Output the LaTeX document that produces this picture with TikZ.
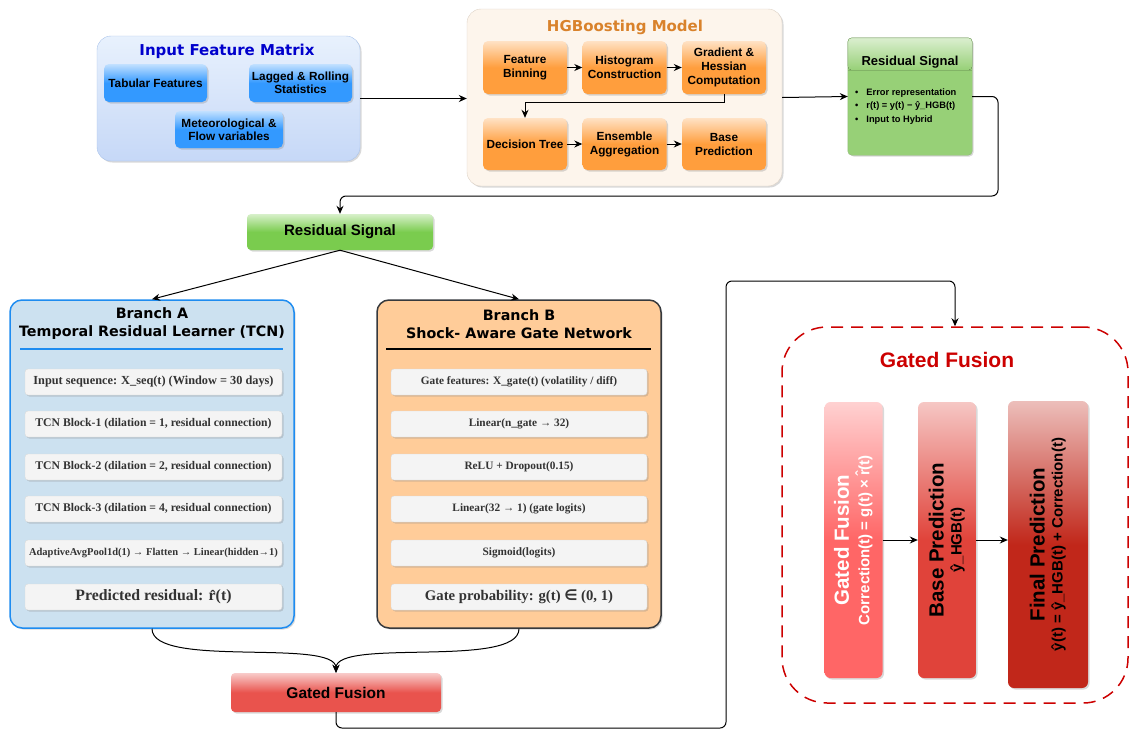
\documentclass[tikz,border=0pt]{standalone}
\usepackage{fontspec}
\setmainfont{Liberation Sans}
\newfontfamily\headfont{DejaVu Sans}
\newfontfamily\layerfont{Liberation Serif}
\usetikzlibrary{positioning, arrows.meta, shadows}
\definecolor{InputBlue}{HTML}{0000CC}
\definecolor{InputTop}{HTML}{E8F1FD}
\definecolor{InputBottom}{HTML}{C6D8F7}
\definecolor{InputEdge}{HTML}{A9C3EA}
\definecolor{FeatBlue}{HTML}{3399FF}
\definecolor{HGBOrange}{HTML}{D9822B}
\definecolor{HGBPanel}{HTML}{FDF5EC}
\definecolor{HGBEdge}{HTML}{DDD2C6}
\definecolor{StepOrange}{HTML}{FF9E3D}
\definecolor{ResGreen}{HTML}{97D077}
\definecolor{ResEdge}{HTML}{82B366}
\definecolor{SignalGreen}{HTML}{7ACC4E}
\definecolor{BranchAFill}{HTML}{CCE1F0}
\definecolor{BranchAEdge}{HTML}{1E8CF0}
\definecolor{BranchBFill}{HTML}{FFCC99}
\definecolor{BranchBEdge}{HTML}{36393D}
\definecolor{LayerFill}{HTML}{F4F4F4}
\definecolor{LayerEdge}{HTML}{DADADA}
\definecolor{LayerText}{HTML}{333333}
\definecolor{FusionRed}{HTML}{CC0000}
\definecolor{FuseLight}{HTML}{FF6666}
\definecolor{FuseMid}{HTML}{E0433A}
\definecolor{FuseDark}{HTML}{C1271A}
\definecolor{SmallFuse}{HTML}{E9534D}

\newcommand{\vlabel}[2]{\rotatebox{90}{\begin{tabular}{@{}c@{}}{\fontsize{20.5}{22}\selectfont #1}\\[3pt]{\fontsize{15}{16}\selectfont #2}\end{tabular}}}

\tikzset{
  softshadow/.style={drop shadow={opacity=0.3, shadow xshift=1.5pt, shadow yshift=-1.5pt}},
  glossy/.style={rounded corners=5pt, softshadow, top color=#1!30!white, bottom color=#1, middle color=#1, align=center, inner sep=1pt},
  featbox/.style={glossy=FeatBlue, minimum width=103pt, minimum height=38pt, font=\bfseries\fontsize{11.8}{13}\selectfont},
  stepbox/.style={glossy=StepOrange, minimum width=84pt, minimum height=53pt, font=\bfseries\fontsize{11.8}{14}\selectfont},
  layer/.style={draw=LayerEdge, fill=LayerFill, rounded corners=3pt, softshadow, minimum height=26pt, text=LayerText, inner sep=1pt},
  branchhead/.style={font=\headfont\bfseries\fontsize{14.3}{18}\selectfont, align=center},
  fusecol/.style={glossy=#1, rounded corners=6pt, minimum width=58pt, minimum height=276pt, font=\bfseries},
  arr/.style={-{Stealth[length=8pt, width=7pt]}, line width=1pt, black},
}

\begin{document}
\begin{tikzpicture}[x=1pt, y=-1pt]
\useasboundingbox (0,0) rectangle (1129,731);

% Input feature matrix
\node[rounded corners=14pt, softshadow, draw=InputEdge, top color=InputTop, bottom color=InputBottom, minimum width=263pt, minimum height=125pt] (inpanel) at (228.5,98.5) {};
\node[font=\headfont\bfseries\fontsize{15}{17}\selectfont, text=InputBlue] (intitle) at (227,51) {Input Feature Matrix};
\node[featbox] (tab) at (155.5,83) {Tabular Features};
\node[featbox] (lag) at (300.5,83) {Lagged \& Rolling\\Statistics};
\node[featbox, minimum width=108pt, minimum height=37pt] (met) at (229,129.5) {Meteorological \&\\Flow variables};

% HGBoosting model
\node[rounded corners=14pt, softshadow, draw=HGBEdge, fill=HGBPanel, minimum width=315pt, minimum height=177pt] (hgbpanel) at (624.5,97.5) {};
\node[font=\headfont\bfseries\fontsize{15}{17}\selectfont, text=HGBOrange] (hgbtitle) at (625,27) {HGBoosting Model};
\node[stepbox] (fb) at (525,67.5) {Feature\\Binning};
\node[stepbox] (hc) at (624.5,67.5) {Histogram\\Construction};
\node[stepbox] (gh) at (724,67.5) {Gradient \&\\Hessian\\Computation};
\node[stepbox, minimum height=52pt] (dt) at (525,144) {Decision Tree};
\node[stepbox, minimum height=52pt] (ea) at (624.5,144) {Ensemble\\Aggregation};
\node[stepbox, minimum height=52pt] (bp) at (724,144) {Base\\Prediction};
\draw[arr] (fb) -- (hc);
\draw[arr] (hc) -- (gh);
\draw[arr] (dt) -- (ea);
\draw[arr] (ea) -- (bp);
\draw[arr] (gh.south) -- ++(0,8) -| (dt.north);
\draw[arr] (inpanel.east) -- (inpanel.east -| hgbpanel.west);

% Residual signal card
\node[fill=ResGreen, minimum width=124pt, minimum height=117pt, rounded corners=4pt, softshadow] (resbox) at (910,96.5) {};
\fill[top color=ResGreen!35!white, bottom color=ResGreen, rounded corners=4pt] (resbox.north west) rectangle (resbox.east |- 0,70);
\draw[ResEdge] (resbox.west |- 0,70) -- (resbox.east |- 0,70);
\draw[ResEdge, rounded corners=4pt] (resbox.north west) rectangle (resbox.south east);
\node[font=\bfseries\fontsize{13}{15}\selectfont] (reshead) at (910,62) {Residual Signal};
\node[anchor=north west, align=left, inner sep=0pt, font=\bfseries\fontsize{9.3}{13.5}\selectfont] (resbul) at (855,88.5)
  {•\hspace{8pt}Error representation\\ •\hspace{8pt}r(t) = y(t) − ŷ\_HGB(t)\\ •\hspace{8pt}Input to Hybrid};
\draw[arr] (hgbpanel.east) -- (resbox.west);

% Residual signal into the branches
\node[glossy=SignalGreen, rounded corners=4pt, minimum width=186pt, minimum height=36pt, font=\bfseries\fontsize{15}{17}\selectfont] (res2) at (340,232) {Residual Signal};
\coordinate (loopR) at (998,196);
\draw[arr, rounded corners=6pt] (resbox.east) -| (loopR) -| (res2.north);

% Branch A
\node[rounded corners=12pt, softshadow, draw=BranchAEdge, line width=1.5pt, fill=BranchAFill, minimum width=284pt, minimum height=328pt] (brA) at (152,464) {};
\node[branchhead] (brAhead) at (152,324) {Branch A\\Temporal Residual Learner (TCN)};
\draw[BranchAEdge, line width=1.2pt] (20,349) -- (283,349);
\foreach \y/\fs/\txt [count=\i] in {
    382/12.3/{Input sequence: X\_seq(t) (Window = 30 days)},
    424/11.7/{TCN Block-1 (dilation = 1, residual connection)},
    467/11.7/{TCN Block-2 (dilation = 2, residual connection)},
    509/11.7/{TCN Block-3 (dilation = 4, residual connection)},
    553/10.5/{AdaptiveAvgPool1d(1) → Flatten → Linear(hidden→1)},
    597/15.8/{Predicted residual: r̂(t)}}
  \node[layer, minimum width=257pt, font=\layerfont\bfseries\fontsize{\fs}{\fs}\selectfont] (a\i) at (153.5,\y) {\txt};

% Branch B
\node[rounded corners=12pt, softshadow, draw=BranchBEdge, line width=1.5pt, fill=BranchBFill, minimum width=284pt, minimum height=328pt] (brB) at (519,464) {};
\node[branchhead] (brBhead) at (519,324) {Branch B\\Shock- Aware Gate Network};
\draw[black, line width=1.2pt] (386,349) -- (651,349);
\foreach \y/\fs/\txt [count=\i] in {
    382/11.3/{Gate features: X\_gate(t) (volatility / diff)},
    424/11.3/{Linear(n\_gate → 32)},
    467/11.3/{ReLU + Dropout(0.15)},
    509/11.3/{Linear(32 → 1) (gate logits)},
    553/11.3/{Sigmoid(logits)},
    597/14.7/{Gate probability: g(t) {\headfont ∈} (0, 1)}}
  \node[layer, minimum width=256pt, font=\layerfont\bfseries\fontsize{\fs}{\fs}\selectfont] (b\i) at (519,\y) {\txt};

\draw[arr] (res2.south) -- (brA.north);
\draw[arr] (res2.south) -- (brB.north);

% Gated fusion (small)
\node[glossy=SmallFuse, rounded corners=4pt, minimum width=210pt, minimum height=39pt, font=\bfseries\fontsize{15.5}{17}\selectfont] (gfs) at (336,692.5) {Gated Fusion};
\draw[arr] (brA.south) .. controls +(0,40) and +(0,-35) .. (gfs.north);
\draw[arr] (brB.south) .. controls +(0,40) and +(0,-35) .. (gfs.north);

% Gated fusion panel
\node[draw=FusionRed, dash pattern=on 12pt off 8pt, line width=1.5pt, rounded corners=45pt, minimum width=346pt, minimum height=376pt] (gfpanel) at (955,515) {};
\node[font=\bfseries\fontsize{21}{24}\selectfont, text=FusionRed] (gftitle) at (947,360) {Gated Fusion};
\coordinate (fuseLow) at (726,728);
\coordinate (fuseTop) at (726,281);
\draw[arr, rounded corners=6pt] (gfs.south) |- (fuseLow) -- (fuseTop) -| (gfpanel.north);

\node[fusecol=FuseLight, text=white] (vgf) at (853.5,540) {\vlabel{Gated Fusion}{Correction(t) = g(t) × r̂(t)}};
\node[fusecol=FuseMid] (vbp) at (947,540) {\vlabel{Base Prediction}{ŷ\_HGB(t)}};
\node[fusecol=FuseDark, minimum width=80pt, minimum height=287pt] (vfp) at (1048,544.5) {\vlabel{Final Prediction}{ŷ(t) = ŷ\_HGB(t) + Correction(t)}};
\draw[arr] (vgf) -- (vbp);
\draw[arr] (vbp.east) -- (vbp.east -| vfp.west);
\end{tikzpicture}
\end{document}
